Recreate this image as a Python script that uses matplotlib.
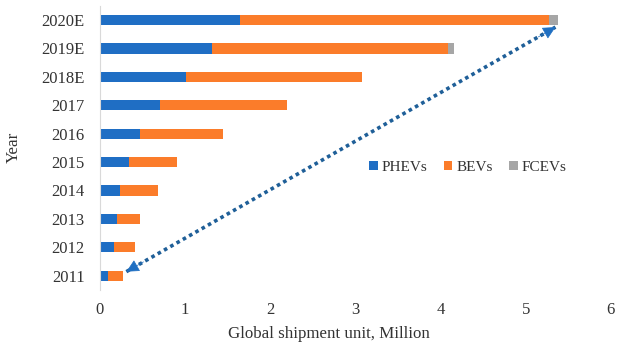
import numpy as np
import matplotlib.pyplot as plt

plt.rcParams['font.family'] = ['Liberation Serif', 'DejaVu Serif']

years = ["2011", "2012", "2013", "2014", "2015", "2016", "2017", "2018E", "2019E", "2020E"]
phev = [0.10, 0.17, 0.20, 0.235, 0.34, 0.47, 0.71, 1.01, 1.32, 1.65]
bev = [0.17, 0.24, 0.27, 0.445, 0.57, 0.98, 1.49, 2.07, 2.77, 3.62]
fcev = [0, 0, 0, 0, 0, 0, 0, 0, 0.07, 0.11]

# dotted trend arrow, from the 2011 bar to the 2020E bar
arrow_x = [0.31, 5.35]
arrow_y = [0.14, 8.75]

fig = plt.figure(figsize=(6.17, 3.43), dpi=100)
ax = fig.add_axes([0.162, 0.155, 0.828, 0.828])

y = np.arange(len(years))
left_bev = np.array(phev)
left_fcev = left_bev + np.array(bev)
ax.barh(y, phev, height=0.36, color="#1f6ec4", label="PHEVs")
ax.barh(y, bev, left=left_bev, height=0.36, color="#fb7c2a", label="BEVs")
ax.barh(y, fcev, left=left_fcev, height=0.36, color="#a6a6a6", label="FCEVs")

# dotted line, then solid heads at both ends
ax.plot(arrow_x, arrow_y, color="#1f5f98", lw=2.6, linestyle=(0, (1, 1.0)),
        solid_capstyle="butt", dash_capstyle="butt")
dx = arrow_x[1] - arrow_x[0]
dy = arrow_y[1] - arrow_y[0]
for (x0, y0), sgn in [((arrow_x[1], arrow_y[1]), -1), ((arrow_x[0], arrow_y[0]), 1)]:
    ax.annotate("", xy=(x0, y0), xytext=(x0 + sgn * dx * 0.04, y0 + sgn * dy * 0.04),
                arrowprops=dict(arrowstyle="-|>", color="#1f6fc2", lw=0.5,
                                mutation_scale=20, shrinkA=0, shrinkB=0))

ax.set_xlim(0, 6)
ax.set_ylim(-0.5, 9.5)
ax.set_yticks(y)
ax.set_yticklabels(years)
ax.set_xticks(range(7))
ax.tick_params(length=0, labelsize=12, colors="#333333")
ax.tick_params(axis="x", pad=9)
ax.tick_params(axis="y", pad=11)
for s in ["top", "right", "bottom"]:
    ax.spines[s].set_visible(False)
ax.spines["left"].set_color("#d9d9d9")

ax.set_xlabel("Global shipment unit, Million", fontsize=12.2, color="#333333")
ax.set_ylabel("Year", fontsize=12.2, color="#333333")
ax.xaxis.set_label_coords(0.448, -0.128)
ax.yaxis.set_label_coords(-0.153, 0.5)

ax.legend(loc="center left", bbox_to_anchor=(0.5, 0.43), ncol=3, frameon=False,
          fontsize=11, handlelength=0.55, handleheight=0.55, handletextpad=0.25,
          columnspacing=1.1, labelcolor="#333333")

plt.savefig("out.png", dpi=100)
